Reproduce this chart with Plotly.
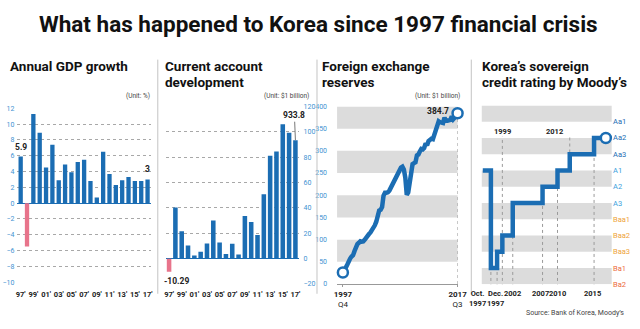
import plotly.graph_objects as go

# ---------------- data ----------------
years = list(range(1997, 2018))

gdp_growth = [5.9, -5.5, 11.3, 8.9, 4.5, 7.4, 2.9, 4.9, 3.9, 5.2, 5.5,
              2.8, 0.7, 6.5, 3.7, 2.3, 2.9, 3.3, 2.8, 2.8, 3.0]

current_account = [-10.29, 40.4, 21.6, 10.4, 2.4, 5.4, 11.9, 30.0, 12.7, 3.6, 11.8,
                   3.2, 33.6, 28.9, 18.7, 50.8, 81.1, 84.4, 105.9, 99.2, 93.38]
current_account_last_label = "933.8"

# quarterly foreign exchange reserves, 1997 Q4 .. 2017 Q3 ($1 billion)
fx_reserves = [
    26.0,
    29.7, 37.0, 43.4, 52.0,
    57.4, 61.9, 64.9, 74.1,
    84.0, 89.9, 92.9, 96.2,
    95.2, 95.8, 99.6, 102.8,
    106.6, 112.6, 116.1, 121.4,
    123.3, 132.2, 140.4, 155.4,
    165.5, 167.1, 173.4, 199.1,
    205.6, 205.7, 206.6, 210.4,
    217.0, 224.4, 228.1, 239.0,
    243.9, 250.3, 257.7, 262.2,
    264.2, 258.1, 239.7, 201.2,
    206.3, 231.7, 254.3, 270.0,
    272.3, 274.2, 289.8, 291.6,
    298.6, 304.5, 303.4, 306.4,
    316.9, 312.4, 322.0, 327.0,
    327.4, 326.4, 336.9, 346.5,
    354.3, 366.6, 364.4, 363.6,
    362.8, 374.8, 368.1, 368.0,
    369.9, 369.9, 377.8, 371.1,
    374.8, 380.6, 384.7,
]
fx_first_label = ["1997", "Q4"]
fx_last_label = ["2017", "Q3"]

# Moody's scale, lowest to highest notch shown
rating_scale = ["Ba2", "Ba1", "Baa3", "Baa2", "Baa1", "A3", "A2", "A1", "Aa3", "Aa2", "Aa1"]
rating_colors = {"Aa": "#1b6db3", "A": "#3aa0dc", "Baa": "#eea23a", "Ba": "#ec6a3c"}
# rating steps on the (compressed) timeline of the chart
rating_t = [1997.13, 1998.5, 1999.55, 2000.44, 2002.2, 2007.24, 2009.77, 2011.84, 2015.95, 2017.94]
rating_steps = ["A1", "Ba1", "Baa3", "Baa2", "A3", "A2", "A1", "Aa3", "Aa2", "Aa2"]
rating_bottom_labels = ["Oct.<br>1997", "Dec.<br>1997", "", "", "2002", "2007", "2010", "", "2015", ""]
rating_top_labels = ["", "", "", "1999", "", "", "", "2012", "", ""]

# ---------------- styling ----------------
W, H = 640, 329
BLUE = "#1b6db3"
PINK = "#e8748b"
TICK_BLUE = "#3f93d2"
BAND = "#dcdcdc"
GRID = "#a8a8a8"
DARK = "#222222"
FONT = "Roboto, Liberation Sans, sans-serif"


def fx_(p):
    return p / W


def fy_(p):
    return 1 - p / H


notch = {name: i for i, name in enumerate(rating_scale)}

fig = go.Figure()

# Annual GDP growth
fig.add_trace(go.Bar(
    x=years, y=gdp_growth, xaxis="x", yaxis="y",
    marker=dict(color=[PINK if v < 0 else BLUE for v in gdp_growth], line=dict(width=0)),
    width=0.68, hoverinfo="x+y",
))

# Current account
fig.add_trace(go.Bar(
    x=years, y=current_account, xaxis="x2", yaxis="y2",
    marker=dict(color=[PINK if v < 0 else BLUE for v in current_account], line=dict(width=0)),
    width=0.72, hoverinfo="x+y",
))

# Foreign exchange reserves
q = list(range(len(fx_reserves)))
fig.add_trace(go.Scatter(
    x=q, y=fx_reserves, xaxis="x3", yaxis="y3", mode="lines",
    line=dict(color=BLUE, width=4.5), cliponaxis=False,
))
fig.add_trace(go.Scatter(
    x=[q[0], q[-1]], y=[fx_reserves[0], fx_reserves[-1]], xaxis="x3", yaxis="y3",
    mode="markers", cliponaxis=False,
    marker=dict(size=10, color="white", line=dict(color=BLUE, width=2.5)),
))

# Moody's rating
ry = [notch[r] for r in rating_steps]
fig.add_trace(go.Scatter(
    x=rating_t, y=ry, xaxis="x4", yaxis="y4", mode="lines",
    line=dict(color=BLUE, width=4.5, shape="hv"), cliponaxis=False,
))
fig.add_trace(go.Scatter(
    x=[rating_t[-1]], y=[ry[-1]], xaxis="x4", yaxis="y4", mode="markers",
    cliponaxis=False,
    marker=dict(size=10, color="white", line=dict(color=BLUE, width=2.5)),
))

tick_years = years[::2]
tick_text = [f"{y % 100:02d}'" for y in tick_years]
xtickfont = dict(family=FONT, size=7.5, color=DARK, weight="bold")
ytickfont = dict(family=FONT, size=7, color=TICK_BLUE)

layout = dict(
    width=W, height=H, margin=dict(l=0, r=0, t=0, b=0),
    paper_bgcolor="white", plot_bgcolor="rgba(0,0,0,0)",
    showlegend=False, font=dict(family=FONT),
    xaxis=dict(domain=[fx_(14.8), fx_(150.8)], range=[1996.5, 2017.5], anchor="y",
               tickvals=tick_years, ticktext=tick_text, tickfont=xtickfont, tickangle=0,
               showgrid=False, zeroline=False, ticks="", ticklabelstandoff=6),
    yaxis=dict(domain=[fy_(285), fy_(107)], range=[-10, 12], anchor="x",
               tickvals=list(range(-10, 13, 2)), tickfont=ytickfont,
               showgrid=True, gridcolor=GRID, griddash="dot", gridwidth=1,
               zeroline=True, zerolinecolor=BLUE, zerolinewidth=1.2, ticks="",
               ticklabelstandoff=2),
    xaxis2=dict(domain=[fx_(166.3), fx_(301.7)], range=[1996.5, 2017.5], anchor="y2",
                tickvals=tick_years, ticktext=tick_text, tickfont=xtickfont, tickangle=0,
                showgrid=False, zeroline=False, ticks="", ticklabelstandoff=4),
    yaxis2=dict(domain=[fy_(287), fy_(105)], range=[-20, 120], anchor="x2", side="right",
                tickvals=list(range(-20, 121, 20)), tickfont=ytickfont,
                showgrid=True, gridcolor=GRID, griddash="dot", gridwidth=1,
                zeroline=True, zerolinecolor=BLUE, zerolinewidth=1.2, ticks="",
                ticklabelstandoff=4),
    xaxis3=dict(domain=[fx_(341), fx_(464)], range=[-4, len(fx_reserves) - 1], anchor="y3",
                tickvals=[q[0], q[-1]], tickangle=0,
                ticktext=[f"<b>{fx_first_label[0]}</b><br>{fx_first_label[1]}",
                          f"<b>{fx_last_label[0]}</b><br>{fx_last_label[1]}"],
                tickfont=dict(family=FONT, size=8, color=DARK),
                showgrid=False, zeroline=False, showline=True, linecolor="#999999",
                linewidth=1, ticks="outside", ticklen=2, tickcolor="#999999"),
    yaxis3=dict(domain=[fy_(287), fy_(105)], range=[0, 400], anchor="x3",
                tickvals=list(range(0, 401, 50)), tickfont=ytickfont,
                showgrid=False, zeroline=False, ticks="", ticklabelstandoff=9),
    xaxis4=dict(domain=[fx_(488.7), fx_(621.3)], range=[1996.96, 2018.93], anchor="y4",
                visible=False),
    yaxis4=dict(domain=[fy_(287.3), fy_(104)], range=[0, 11], anchor="x4",
                visible=False),
)

shapes = []
annotations = []

# grey bands
for lo in range(50, 401, 100):
    shapes.append(dict(type="rect", xref="x3 domain", yref="y3", x0=0, x1=1,
                       y0=lo, y1=lo + 50, fillcolor=BAND, line=dict(width=0), layer="below"))
for lo in range(0, len(rating_scale) + 1, 2):
    shapes.append(dict(type="rect", xref="x4 domain", yref="y4", x0=0, x1=1,
                       y0=lo, y1=lo + 1, fillcolor=BAND, line=dict(width=0), layer="below"))

# dotted guide at the latest reserve figure
shapes.append(dict(type="line", xref="x3", yref="y3", x0=q[-1], x1=q[-1],
                   y0=0, y1=fx_reserves[-1], line=dict(color="#999999", width=1, dash="dot"),
                   layer="below"))

# panel separators
for sx in (158, 320.5, 478):
    shapes.append(dict(type="line", xref="paper", yref="paper", x0=fx_(sx), x1=fx_(sx),
                       y0=fy_(297), y1=fy_(57), line=dict(color="#c4c4c4", width=1)))


def y4_from_px(p):
    return (287.3 - p) / ((287.3 - 104) / 11)


# dotted guides under the rating steps
for i in range(1, len(rating_t) - 1):
    lower = min(ry[i - 1], ry[i])
    top = lower
    if rating_top_labels[i]:
        top = y4_from_px(136)
    bottom = y4_from_px(290)
    if rating_top_labels[i] == "2012":
        bottom = lower
    shapes.append(dict(type="line", xref="x4", yref="y4", x0=rating_t[i], x1=rating_t[i],
                       y0=bottom, y1=top, line=dict(color="#9a9a9a", width=1, dash="dot"),
                       layer="below"))

# rating scale labels
for name in rating_scale:
    tier = "Aa" if name.startswith("Aa") else ("Baa" if name.startswith("Baa")
                                               else ("Ba" if name.startswith("Ba") else "A"))
    annotations.append(dict(xref="paper", yref="y4", x=fx_(621), y=notch[name],
                            text=name, showarrow=False, xanchor="left", yanchor="middle",
                            font=dict(family=FONT, size=7.5, color=rating_colors[tier])))

# timeline labels
lfont = dict(family=FONT, size=7.5, color=DARK, weight="bold")
shift = {"Oct.<br>1997": -5, "Dec.<br>1997": 5, "2007": -2, "2015": -2}
for t, lab in zip(rating_t, rating_bottom_labels):
    if lab:
        annotations.append(dict(xref="x4", yref="paper", x=t, y=fy_(290), text=lab,
                                showarrow=False, xanchor="center", yanchor="top",
                                xshift=shift.get(lab, 0), font=lfont))
for t, lab in zip(rating_t, rating_top_labels):
    if lab:
        annotations.append(dict(xref="x4", yref="paper", x=t, y=fy_(131), text=lab,
                                showarrow=False, xanchor="center" if lab == "1999" else "right",
                                yanchor="middle", xshift=0 if lab == "1999" else -4,
                                font=lfont))

# value labels
vfont = dict(family=FONT, size=8.5, color=DARK, weight="bold")
annotations += [
    dict(xref="x", yref="y", x=years[0], y=gdp_growth[0], text=f"{gdp_growth[0]:g}",
         showarrow=False, yanchor="bottom", yshift=3, font=vfont),
    dict(xref="x", yref="y", x=years[-1], y=gdp_growth[-1], text=f"{gdp_growth[-1]:g}",
         showarrow=False, yanchor="bottom", yshift=3, font=vfont),
    dict(xref="x2", yref="y2", x=years[0], y=current_account[0], text=f"{current_account[0]:g}",
         showarrow=False, yanchor="top", xshift=7, yshift=-2, font=vfont),
    dict(xref="x2", yref="y2", x=years[-1], y=current_account[-1],
         text=current_account_last_label, showarrow=True, arrowhead=0, arrowwidth=1,
         arrowcolor="#777777", ax=-1, ay=-25, font=vfont),
    dict(xref="x3", yref="y3", x=q[-1], y=fx_reserves[-1], text=f"{fx_reserves[-1]:g}",
         showarrow=False, xanchor="right", yanchor="middle", xshift=-7, yshift=2, font=vfont),
]

# titles and notes
tfont = dict(family=FONT, size=13.5, color="#111111", weight="bold")
for x0, lines in ((5, ["Annual GDP growth"]),
                  (163, ["Current account", "development"]),
                  (324, ["Foreign exchange", "reserves"]),
                  (487, ["Korea\u2019s sovereign", "credit rating by Moody\u2019s"])):
    for k, line in enumerate(lines):
        annotations.append(dict(xref="paper", yref="paper", x=fx_(x0), y=fy_(64 + 16 * k),
                                text=line, showarrow=False, xanchor="left", yanchor="middle",
                                font=tfont))

ufont = dict(family=FONT, size=6.5, color="#444444")
for xr, txt in ((152, "(Unit: %)"), (314, "(Unit: $1 billion)"), (469, "(Unit: $1 billion)")):
    annotations.append(dict(xref="paper", yref="paper", x=fx_(xr), y=fy_(94), text=txt,
                            showarrow=False, xanchor="right", yanchor="middle", font=ufont))

annotations.append(dict(xref="paper", yref="paper", x=fx_(636), y=fy_(317),
                        text="Source: Bank of Korea, Moody\u2019s", showarrow=False,
                        xanchor="right", yanchor="middle",
                        font=dict(family=FONT, size=7, color="#444444")))

annotations.append(dict(xref="paper", yref="paper", x=fx_(322), y=fy_(21),
                        text="What has happened to Korea since 1997 financial crisis",
                        showarrow=False, xanchor="center", yanchor="middle",
                        font=dict(family=FONT, size=22.5, color="#111111", weight="bold")))

layout["shapes"] = shapes
layout["annotations"] = annotations
fig.update_layout(**layout)

fig.write_html("out.html")
